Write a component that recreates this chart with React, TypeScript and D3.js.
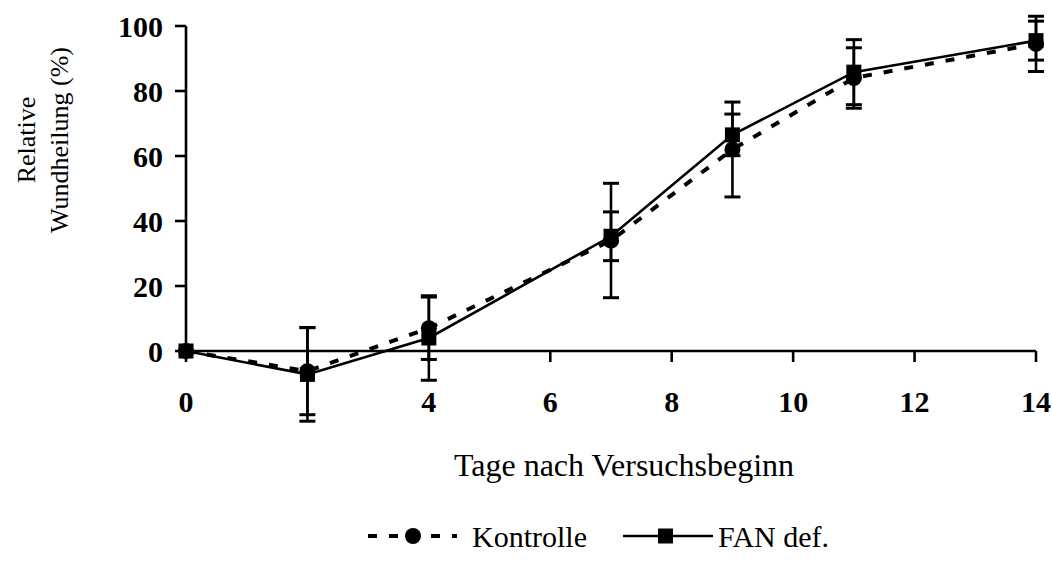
import React from "react";
import * as d3 from "d3";

const days = [0, 2, 4, 7, 9, 11, 14];
const kontrolle = [0, -6.2, 7, 34, 62, 84, 94.5];
const kontrolleErr = [0, 13.4, 9.6, 17.6, 14.6, 9.3, 8.5];
const fan = [0, -7.2, 4, 35.3, 66.5, 85.8, 95.5];
const fanErr = [0, 14.4, 13, 7.5, 6.4, 10, 6];
const yTicks = [0, 20, 40, 60, 80, 100];
const xTicks = [0, 2, 4, 6, 8, 10, 12, 14];
const xTickLabels = ["0", "", "4", "6", "8", "10", "12", "14"];

const FONT = "'Liberation Serif', 'Times New Roman', serif";

export default function App() {
  const x = d3.scaleLinear().domain([0, 14]).range([186, 1036]);
  const y = d3.scaleLinear().domain([0, 100]).range([351, 26]);
  const line = d3
    .line<number>()
    .x((_, i) => x(days[i]))
    .y((d) => y(d));

  const errBars = (vals: number[], errs: number[], key: string) =>
    vals.map((v, i) =>
      errs[i] > 0 ? (
        <g key={key + i} stroke="#000" strokeWidth={2.6}>
          <line x1={x(days[i])} x2={x(days[i])} y1={y(v + errs[i])} y2={y(v - errs[i])} />
          <line x1={x(days[i]) - 8} x2={x(days[i]) + 8} y1={y(v + errs[i])} y2={y(v + errs[i])} strokeWidth={3} />
          <line x1={x(days[i]) - 8} x2={x(days[i]) + 8} y1={y(v - errs[i])} y2={y(v - errs[i])} strokeWidth={3} />
        </g>
      ) : null
    );

  return (
    <svg
      width={1052}
      height={568}
      style={{ position: "absolute", left: 0, top: 0, background: "#fff" }}
      fontFamily={FONT}
    >
      <rect width={1052} height={568} fill="#fff" />
      {/* y axis */}
      <line x1={x(0)} x2={x(0)} y1={y(0)} y2={y(100)} stroke="#000" strokeWidth={2.6} />
      {yTicks.map((t) => (
        <g key={"yt" + t}>
          <line x1={x(0) - 11} x2={x(0)} y1={y(t)} y2={y(t)} stroke="#000" strokeWidth={2.6} />
          <text x={163} y={y(t)} dy="0.35em" textAnchor="end" fontWeight="bold" fontSize={30}>
            {t}
          </text>
        </g>
      ))}
      {/* x axis */}
      <line x1={x(0)} x2={x(14)} y1={y(0)} y2={y(0)} stroke="#000" strokeWidth={2.6} />
      {xTicks.map((t, i) => (
        <g key={"xt" + t}>
          <line x1={x(t)} x2={x(t)} y1={y(0)} y2={y(0) + 11} stroke="#000" strokeWidth={2.6} />
          <text x={x(t)} y={401} dy="0.35em" textAnchor="middle" fontWeight="bold" fontSize={30}>
            {xTickLabels[i]}
          </text>
        </g>
      ))}
      {/* axis titles */}
      <text x={624} y={465} dy="0.35em" textAnchor="middle" fontSize={32}>
        Tage nach Versuchsbeginn
      </text>
      <g transform="translate(0,140) rotate(-90)">
        <text x={0} y={35} textAnchor="middle" fontSize={26}>Relative</text>
        <text x={0} y={68} textAnchor="middle" fontSize={26}>Wundheilung (%)</text>
      </g>
      {/* series lines */}
      <path d={line(kontrolle) || ""} fill="none" stroke="#000" strokeWidth={4} strokeDasharray="9,12" />
      <path d={line(fan) || ""} fill="none" stroke="#000" strokeWidth={2.6} />
      {errBars(kontrolle, kontrolleErr, "ke")}
      {errBars(fan, fanErr, "fe")}
      {kontrolle.map((v, i) => (
        <circle key={"kc" + i} cx={x(days[i])} cy={y(v)} r={8} fill="#000" />
      ))}
      {fan.map((v, i) => (
        <rect key={"fr" + i} x={x(days[i]) - 7.5} y={y(v) - 7.5} width={15} height={15} fill="#000" />
      ))}
      {/* legend */}
      <g>
        <line x1={368} x2={457} y1={536} y2={536} stroke="#000" strokeWidth={4} strokeDasharray="9,12" />
        <circle cx={413} cy={536} r={8} fill="#000" />
        <text x={472} y={536} dy="0.35em" fontSize={30}>Kontrolle</text>
        <line x1={623} x2={713} y1={536} y2={536} stroke="#000" strokeWidth={2.6} />
        <rect x={658} y={528.5} width={15} height={15} fill="#000" />
        <text x={718} y={536} dy="0.35em" fontSize={30}>FAN def.</text>
      </g>
    </svg>
  );
}
